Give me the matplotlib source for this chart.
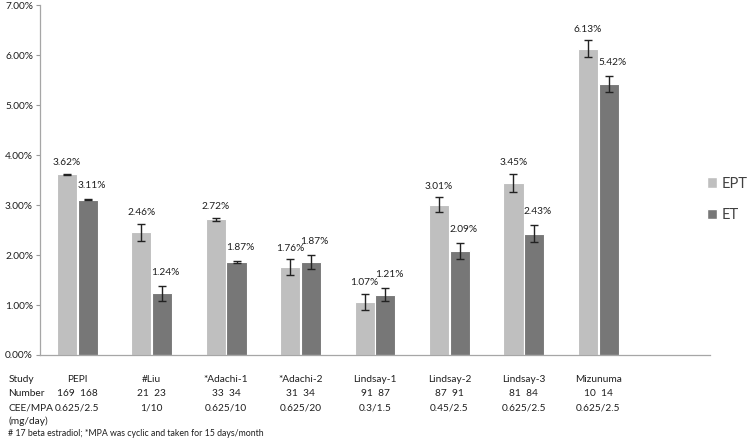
import numpy as np
import matplotlib
matplotlib.use("Agg")
import matplotlib.pyplot as plt
import matplotlib.transforms as mtransforms
from matplotlib.patches import Patch
from matplotlib.ticker import PercentFormatter

# data
studies = ["PEPI", "#Liu", "*Adachi-1", "*Adachi-2", "Lindsay-1", "Lindsay-2", "Lindsay-3", "Mizunuma"]
ept = [3.62, 2.46, 2.72, 1.76, 1.07, 3.01, 3.45, 6.13]
et = [3.11, 1.24, 1.87, 1.87, 1.21, 2.09, 2.43, 5.42]
ept_err = [0.01, 0.17, 0.03, 0.16, 0.16, 0.15, 0.18, 0.17]
et_err = [0.01, 0.15, 0.02, 0.14, 0.13, 0.16, 0.17, 0.16]
n_ept = [169, 21, 33, 31, 91, 87, 81, 10]
n_et = [168, 23, 34, 34, 87, 91, 84, 14]
doses = ["0.625/2.5", "1/10", "0.625/10", "0.625/20", "0.3/1.5", "0.45/2.5", "0.625/2.5", "0.625/2.5"]
footnote = "# 17 beta estradiol; *MPA was cyclic and taken for 15 days/month"

plt.rcParams['font.family'] = ['Lato', 'DejaVu Sans']
txt = '#1e1e1e'
c_ept = '#bfbfbf'
c_et = '#777777'

fig = plt.figure(figsize=(7.5, 4.38), dpi=100)
ax = fig.add_axes([0.0533, 0.1895, 0.8934, 0.799])

x = np.arange(len(studies))
w = 0.27
ax.bar(x - 0.14, ept, w, color=c_ept, edgecolor='white', linewidth=0.8,
       yerr=ept_err, error_kw=dict(ecolor='#222222', elinewidth=1, capsize=3, capthick=1))
ax.bar(x + 0.14, et, w, color=c_et, edgecolor='white', linewidth=0.8,
       yerr=et_err, error_kw=dict(ecolor='#222222', elinewidth=1, capsize=3, capthick=1))

for i in range(len(studies)):
    ax.text(x[i] - 0.14, ept[i] + ept_err[i] + 0.22, "%.2f%%" % ept[i],
            ha='center', va='center', fontsize=7.3, color=txt)
    ax.text(x[i] + 0.19, et[i] + et_err[i] + 0.27, "%.2f%%" % et[i],
            ha='center', va='center', fontsize=7.3, color=txt)

ax.set_xlim(-0.5, 8.5)
ax.set_ylim(0, 7)
ax.set_yticks(np.arange(0, 8, 1))
ax.yaxis.set_major_formatter(PercentFormatter(decimals=2))
ax.tick_params(axis='y', labelsize=7.3, colors='#999999', labelcolor=txt, length=3, width=0.8, pad=2)
ax.set_xticks([])
for s in ['top', 'right']:
    ax.spines[s].set_visible(False)
for s in ['left', 'bottom']:
    ax.spines[s].set_color('#a6a6a6')
    ax.spines[s].set_linewidth(0.9)

# table under the axis
tr = mtransforms.blended_transform_factory(ax.transData, fig.transFigure)
row_y = [1 - 380/438, 1 - 394/438, 1 - 408/438]
fs = 7.3
fig.text(0.011, row_y[0], "Study", fontsize=fs, color=txt, va='center')
fig.text(0.011, row_y[1], "Number", fontsize=fs, color=txt, va='center')
fig.text(0.011, row_y[2], "CEE/MPA", fontsize=fs, color=txt, va='center')
fig.text(0.011, 1 - 421/438, "(mg/day)", fontsize=fs, color=txt, va='center')
for i in range(len(studies)):
    ax.text(x[i], row_y[0], studies[i], transform=tr, ha='center', va='center', fontsize=fs, color=txt)
    ax.text(x[i], row_y[1], "%d  %d" % (n_ept[i], n_et[i]), transform=tr, ha='center', va='center', fontsize=fs, color=txt)
    ax.text(x[i], row_y[2], doses[i], transform=tr, ha='center', va='center', fontsize=fs, color=txt)
fig.text(0.011, 1 - 433/438, footnote, fontsize=6.3, color=txt, va='center')

handles = [Patch(facecolor=c_ept, edgecolor='white'), Patch(facecolor=c_et, edgecolor='white')]
fig.legend(handles, ["EPT", "ET"], loc='center left', bbox_to_anchor=(0.943, 0.545), frameon=False,
           fontsize=10.5, labelcolor='#404040', handlelength=0.7, handleheight=0.7, handletextpad=0.3,
           labelspacing=1.2, borderaxespad=0, borderpad=0)

fig.savefig("out.png", dpi=100)
